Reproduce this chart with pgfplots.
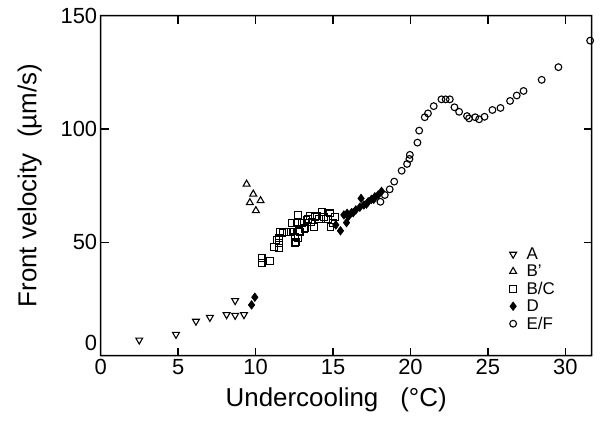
\documentclass[border=0pt]{standalone}
\usepackage{fontspec}
\setmainfont{Liberation Sans}
\usepackage{pgfplots}
\pgfplotsset{compat=1.18}
\begin{document}
\begin{tikzpicture}
\begin{axis}[
  at={(0,0)}, anchor=south west,
  scale only axis, width=491bp, height=340bp,
  xmin=0, xmax=31.7, ymin=0, ymax=150,
  xtick={0,5,...,30}, ytick={0,50,100,150},
  yticklabels={{\raisebox{26bp}{0}},50,100,150},
  tick align=inside, major tick length=8bp,
  major tick style={line width=1.3pt, black},
  axis line style={line width=1.3pt, black},
  tick label style={font=\fontsize{22}{26}\selectfont},
  /pgf/number format/assume math mode=true,
  xlabel={Undercooling\hspace{0.85em}(°C)},
  ylabel={Front velocity\hspace{0.6em}(µm/s)},
  label style={font=\fontsize{26}{30}\selectfont},
  xlabel style={xshift=-10bp, yshift=-6bp},
  ylabel style={yshift=12bp},
  legend style={at={(rel axis cs:0.812,0.33)}, anchor=north west, draw=none,
    font=\fontsize{17}{19}\selectfont, row sep=0bp, cells={anchor=west}},
  legend image code/.code={\path (0bp,0bp) (21bp,0bp); \draw[mark repeat=2,mark phase=2,#1] plot coordinates {(0bp,0bp) (10bp,0bp) (20bp,0bp)};},
]
\addplot[only marks, black, line width=1.1pt, mark=triangle, mark size=4pt, mark options={rotate=180}] coordinates {
(2.49,6.9) (4.86,9.4) (6.15,15.2) (7.05,16.9) (8.13,18.1) (8.68,17.8) (9.25,18.1) (8.68,24.3)
};
\addlegendentry{A}
\addplot[only marks, black, line width=1.1pt, mark=triangle, mark size=4pt] coordinates {
(9.42,75.7) (9.85,71.3) (10.32,68.4) (9.63,67.5) (10.02,64.0)
};
\addlegendentry{B'}
\addplot[only marks, black, line width=1.1pt, mark=square, mark size=3.4pt] coordinates {
(10.39,43.2) (10.39,40.8) (10.92,41.9) (11.18,48.1) (11.52,47.4) (11.52,49.8) (11.52,51.8)
(11.74,54.3) (12.0,54.7) (12.26,54.7) (12.32,58.4) (12.54,52.2) (12.6,50.3) (12.68,58.7)
(12.75,62.1) (12.86,54.7) (12.97,58.7) (13.18,56.2) (13.29,59.9) (13.5,61.6) (13.61,59.1)
(13.76,56.9) (13.83,61.1) (14.1,60.2) (14.26,63.5) (14.41,61.3) (14.68,60.2) (14.79,62.8)
(14.84,56.9) (15.0,58.4) (15.12,61.3) (11.35,51.0) (12.75,51.8) (12.54,49.6) (13.94,61.6)
(14.54,60.4) (13.37,60.2) (11.57,54.7) (12.81,55.1) (13.16,55.8)
};
\addlegendentry{B/C}
\addplot[only marks, black, line width=0.6pt, mark=diamond*, mark size=4.3pt] coordinates {
(9.74,22.4) (9.95,25.8) (15.18,57.7) (15.48,55.1) (15.87,58.7) (15.7,62.1) (15.91,62.8)
(16.19,63.1) (16.47,64.3) (16.73,65.5) (16.81,69.4) (16.99,66.5) (17.27,67.9) (17.48,69.0)
(17.7,70.1) (17.91,70.9) (18.13,72.5) (15.98,61.3) (16.3,63.1) (17.16,66.9) (17.63,69.0)
};
\addlegendentry{D}
\addplot[only marks, black, line width=1.1pt, mark=o, mark size=3.4pt] coordinates {
(18.06,67.9) (18.34,70.9) (18.66,73.4) (18.95,76.8) (19.43,81.6) (19.78,84.6) (19.93,86.8)
(19.96,88.6) (20.45,94.0) (20.56,99.3) (20.92,105.2) (21.13,106.9) (21.5,110.1) (22.0,113.1)
(22.27,113.1) (22.54,113.1) (22.84,109.6) (23.14,107.6) (23.65,105.7) (23.78,104.7)
(24.18,105.2) (24.43,104.3) (24.78,105.4) (25.29,108.4) (25.81,109.3) (26.43,112.4)
(26.86,114.8) (27.3,116.8) (28.47,121.7) (29.55,127.3) (31.6,139.0)
};
\addlegendentry{E/F}
\end{axis}
\fill[black, even odd rule] (-0.75bp,-0.75bp) rectangle (491.75bp,340.75bp)
  (0.75bp,0.75bp) rectangle (490.25bp,339.25bp);
\useasboundingbox (-100.7bp,-66.3bp) rectangle (514.3bp,355.7bp);
\end{tikzpicture}
\end{document}
